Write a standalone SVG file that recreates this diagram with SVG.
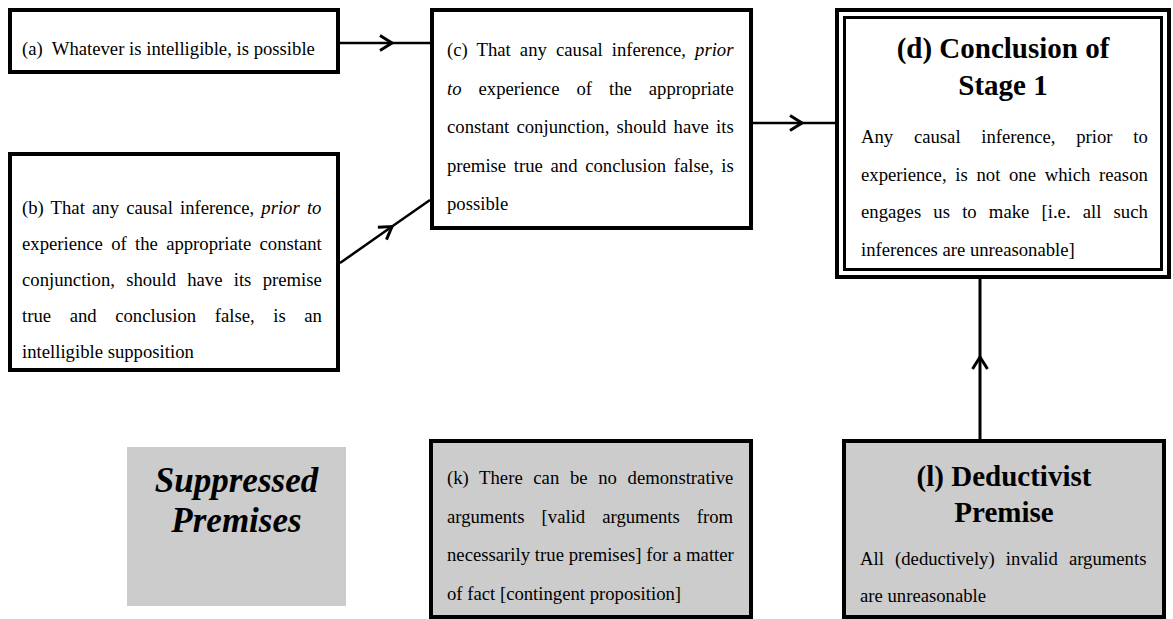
<svg xmlns="http://www.w3.org/2000/svg" width="1173" height="619" viewBox="0 0 1173 619">
<style>
.box{fill:#fff;stroke:#000;stroke-width:4}
.gray{fill:#cccccc;stroke:#000;stroke-width:4}
.t{font-family:"Liberation Serif","Times New Roman",serif;font-size:18.7px;fill:#000}
.h{font-family:"Liberation Serif","Times New Roman",serif;font-size:29px;font-weight:bold;fill:#000;text-anchor:middle}
.sp{font-family:"Liberation Serif","Times New Roman",serif;font-size:35px;font-weight:bold;font-style:italic;fill:#000;text-anchor:middle}
.i{font-style:italic}
.c{fill:none;stroke:#000;stroke-width:2.5}
</style>
<defs>
<marker id="chev" markerUnits="userSpaceOnUse" markerWidth="20" markerHeight="20" viewBox="-14 -10 16 20" refX="0" refY="0" orient="auto" overflow="visible">
<path d="M-12,-7.5 L0,0 L-12,7.5" fill="none" stroke="#000" stroke-width="3"/>
</marker>
</defs>

<g id="connectors">
<polyline class="c" points="340,43 392,43 430,43" marker-mid="url(#chev)"/>
<polyline class="c" points="340,263 392,226.6 430,200" marker-mid="url(#chev)"/>
<polyline class="c" points="753,123 802,123 837,123" marker-mid="url(#chev)"/>
<polyline class="c" style="stroke-width:3" points="980,439 980,357 980,279" marker-mid="url(#chev)"/>
</g>

<g id="node-a">
<rect class="box" x="10" y="10" width="328" height="62"/>
<text class="t" x="22" y="55">(a) <tspan dx="4.7">Whatever is intelligible, is possible</tspan></text>
</g>

<g id="node-b">
<rect class="box" x="10" y="154" width="328" height="216"/>
<text class="t" x="22" y="214" style="word-spacing:2.48px">(b) That any causal inference, <tspan class="i">prior to</tspan></text>
<text class="t" x="22" y="250" style="word-spacing:3.6px">experience of the appropriate constant</text>
<text class="t" x="22" y="286" style="word-spacing:6.57px">conjunction, should have its premise</text>
<text class="t" x="22" y="322" style="word-spacing:13.9px">true and conclusion false, is an</text>
<text class="t" x="22" y="358">intelligible supposition</text>
</g>

<g id="node-c">
<rect class="box" x="432" y="10" width="319" height="218"/>
<text class="t" x="447" y="56" style="word-spacing:4.44px">(c) That any causal inference, <tspan class="i">prior</tspan></text>
<text class="t" x="447" y="95" style="word-spacing:12.3px"><tspan class="i">to</tspan> experience of the appropriate</text>
<text class="t" x="447" y="133" style="word-spacing:2.53px">constant conjunction, should have its</text>
<text class="t" x="447" y="172" style="word-spacing:2.98px">premise true and conclusion false, is</text>
<text class="t" x="447" y="210">possible</text>
</g>

<g id="node-d">
<rect x="837" y="10" width="332" height="267" fill="#fff" stroke="#000" stroke-width="4"/>
<rect x="844.5" y="17.5" width="317" height="252" fill="none" stroke="#000" stroke-width="3"/>
<text class="h" x="1003" y="58">(d) Conclusion of</text>
<text class="h" x="1003" y="95">Stage 1</text>
<text class="t" x="861" y="143" style="word-spacing:16.05px">Any causal inference, prior to</text>
<text class="t" x="861" y="181" style="word-spacing:4.02px">experience, is not one which reason</text>
<text class="t" x="861" y="218" style="word-spacing:7.5px">engages us to make [i.e. all such</text>
<text class="t" x="861" y="256">inferences are unreasonable]</text>
</g>

<g id="node-suppressed">
<rect x="127" y="447" width="219" height="159" fill="#cccccc"/>
<text class="sp" x="236.5" y="492">Suppressed</text>
<text class="sp" x="236.5" y="532">Premises</text>
</g>

<g id="node-k">
<rect class="gray" x="431" y="441" width="320" height="176"/>
<text class="t" x="447" y="484" style="word-spacing:5.98px">(k) There can be no demonstrative</text>
<text class="t" x="447" y="523" style="word-spacing:12.4px">arguments [valid arguments from</text>
<text class="t" x="447" y="561" style="word-spacing:0.18px">necessarily true premises] for a matter</text>
<text class="t" x="447" y="600">of fact [contingent proposition]</text>
</g>

<g id="node-l">
<rect class="gray" x="844" y="441" width="320" height="176"/>
<text class="h" x="1004" y="486">(l) Deductivist</text>
<text class="h" x="1004" y="522">Premise</text>
<text class="t" x="860" y="565" style="word-spacing:6.5px">All (deductively) invalid arguments</text>
<text class="t" x="860" y="602">are unreasonable</text>
</g>
</svg>
